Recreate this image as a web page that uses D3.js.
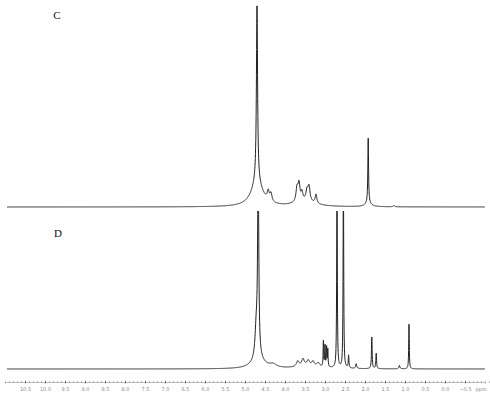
<!DOCTYPE html>
<html>
<head>
<meta charset="utf-8">
<script src="https://cdn.jsdelivr.net/npm/d3@7"></script>
<style>
  body { margin: 0; background: #fff; }
  svg { display: block; }
</style>
</head>
<body>
<div id="view"></div>
<script>
// peaks: position (ppm), height (% of panel), half width (ppm)
var cPpm    = [4.70, 4.70, 4.42, 4.35, 3.70, 3.65, 3.575, 3.45, 3.40, 3.225, 3.50, 1.92, 1.92, 1.28];
var cHeight = [88,   12,   4.5,  4.0,  6.5,  8.5,  4.0,   5.0,  7.0,  4.5,   2.5,  33,   2.0,  0.6];
var cWidth  = [0.017,0.17, 0.03, 0.03, 0.03, 0.03, 0.025, 0.03, 0.03, 0.025, 0.30, 0.01, 0.08, 0.02];

var dPpm    = [4.67, 4.72, 4.67, 4.30, 3.68, 3.55, 3.42, 3.30, 3.17, 3.04, 3.00, 2.96, 2.93, 2.70, 2.54, 2.41, 2.22, 1.83, 1.72, 1.14, 0.90, 3.40];
var dHeight = [130,  18,   6,    2.0,  3.5,  4.5,  3.5,  3.0,  2.5,  17,   14,   13,   11,   140,  140,  8,    3.0,  20,   10,   2.2,  30,   1.5];
var dWidth  = [0.016,0.035,0.18, 0.10, 0.04, 0.04, 0.04, 0.04, 0.04, 0.008,0.008,0.008,0.008,0.008,0.008,0.01, 0.015,0.01, 0.01, 0.015,0.008,0.40];

var majorTicks = [10.5, 10.0, 9.5, 9.0, 8.5, 8.0, 7.5, 7.0, 6.5, 6.0, 5.5, 5.0, 4.5, 4.0, 3.5, 3.0, 2.5, 2.0, 1.5, 1.0, 0.5, 0.0, -0.5];

var width = 490, height = 397;

var svg = d3.select("#view")
    .append("svg")
    .attr("width", width)
    .attr("height", height);

var x = d3.scaleLinear()
    .domain([11.0, -1.0])
    .range([5, 485]);

var yC = d3.scaleLinear().domain([0, 100]).range([207, 4]);
var yD = d3.scaleLinear().domain([0, 100]).range([369, 211]);

// ppm grid along the axis
var grid = d3.range(10.95, -1.0, -0.004);

function spectrum(pos, hts, wds) {
    return grid.map(function(p) {
        var s = 0;
        for (var i = 0; i < pos.length; i++) {
            var dx = p - pos[i];
            s += hts[i] * wds[i] * wds[i] / (dx * dx + wds[i] * wds[i]);
        }
        return [p, s];
    });
}

svg.append("clipPath")
    .attr("id", "clipD")
    .append("rect")
    .attr("x", 0).attr("y", 211)
    .attr("width", width).attr("height", 180);

var lineC = d3.line()
    .x(function(d) { return x(d[0]); })
    .y(function(d) { return yC(d[1]); });

var lineD = d3.line()
    .x(function(d) { return x(d[0]); })
    .y(function(d) { return yD(d[1]); });

svg.append("path")
    .datum(spectrum(cPpm, cHeight, cWidth))
    .attr("fill", "none")
    .attr("stroke", "#222")
    .attr("stroke-width", 1)
    .attr("d", lineC);

svg.append("path")
    .datum(spectrum(dPpm, dHeight, dWidth))
    .attr("clip-path", "url(#clipD)")
    .attr("fill", "none")
    .attr("stroke", "#222")
    .attr("stroke-width", 1)
    .attr("d", lineD);

// panel labels
svg.append("text")
    .attr("x", 57).attr("y", 19)
    .attr("text-anchor", "middle")
    .attr("font-family", "Liberation Serif, serif")
    .attr("font-size", 11)
    .attr("fill", "#111")
    .text("C");

svg.append("text")
    .attr("x", 58).attr("y", 237)
    .attr("text-anchor", "middle")
    .attr("font-family", "Liberation Serif, serif")
    .attr("font-size", 11)
    .attr("fill", "#111")
    .text("D");

// ppm ruler
var minorTicks = d3.range(110, -101, -1).map(function(v) { return v / 10; });

var axisG = svg.append("g")
    .attr("transform", "translate(0,382)");

axisG.call(d3.axisBottom(x)
    .tickValues(minorTicks)
    .tickSize(1.5)
    .tickFormat(""))
    .select(".domain")
    .attr("stroke", "#999")
    .attr("stroke-width", 0.6);

axisG.selectAll(".tick line")
    .attr("stroke", "#888")
    .attr("stroke-width", 0.7)
    .attr("transform", "translate(0,-0.75)");

var majorG = svg.append("g")
    .attr("transform", "translate(0,382)");

majorG.call(d3.axisBottom(x)
    .tickValues(majorTicks)
    .tickSize(2.5)
    .tickPadding(3)
    .tickFormat(d3.format(".1f")))
    .select(".domain")
    .remove();

majorG.selectAll(".tick line")
    .attr("stroke", "#555")
    .attr("stroke-width", 0.8)
    .attr("transform", "translate(0,-1.2)");

majorG.selectAll(".tick text")
    .attr("font-family", "DejaVu Sans, sans-serif")
    .attr("font-size", 5)
    .attr("fill", "#888");

svg.append("text")
    .attr("x", 481).attr("y", 391)
    .attr("text-anchor", "middle")
    .attr("font-family", "DejaVu Sans, sans-serif")
    .attr("font-size", 5)
    .attr("fill", "#888")
    .text("ppm");
</script>
</body>
</html>
